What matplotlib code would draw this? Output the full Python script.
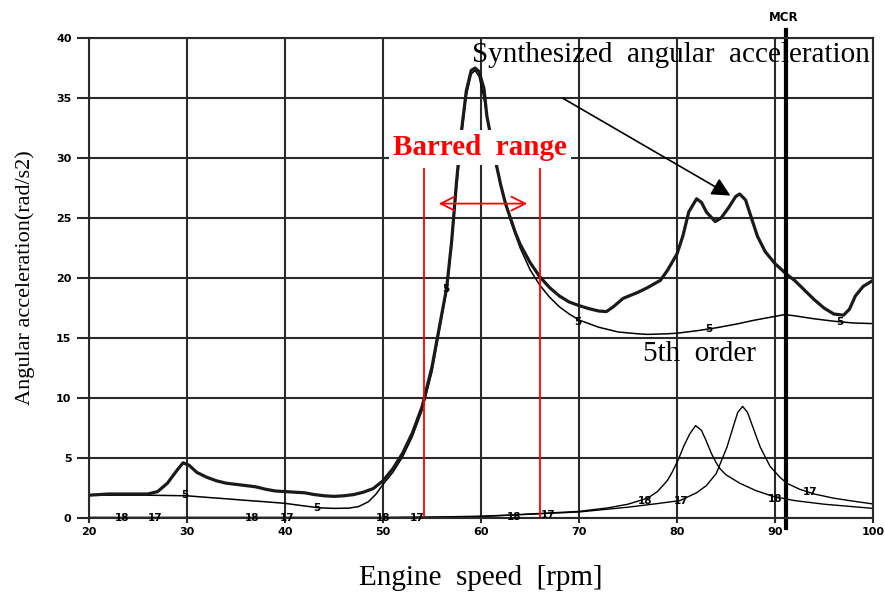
import matplotlib
matplotlib.use('Agg')
import matplotlib.pyplot as plt

# synthesized angular acceleration (thick curve)
synth_rpm = [20, 22, 24, 26, 27, 28, 29, 29.6, 30.2, 31, 32, 33, 34, 35, 36, 37, 38, 39, 40, 41, 42, 43, 44, 45, 46, 47, 48, 49, 50,
             51, 52, 53, 54, 55, 55.5, 56, 56.5, 57, 57.5, 58, 58.5, 59, 59.4, 59.8, 60.3, 60.6, 61, 61.5, 62, 62.5, 63, 63.5, 64,
             65, 66, 67, 68, 69, 70, 71, 72, 72.8, 73.5, 74.5, 76, 77, 78.3, 79, 80, 80.6, 81.2, 82, 82.5, 83, 83.9, 84.5, 85.3,
             86, 86.4, 87, 87.6, 88.2, 89, 90, 91.2, 92, 93, 94, 95, 96, 97, 97.6, 98.2, 99, 100]
synth_val = [1.9, 2.0, 2.0, 2.0, 2.2, 2.9, 4.0, 4.6, 4.4, 3.8, 3.4, 3.1, 2.9, 2.8, 2.7, 2.6, 2.4, 2.25, 2.2, 2.15, 2.1, 1.95, 1.85, 1.8, 1.85, 1.95, 2.15, 2.45, 3.1,
             4.1, 5.4, 7.1, 9.3, 12.6, 14.8, 17.0, 19.2, 23.0, 28.0, 32.2, 35.6, 37.3, 37.5, 37.2, 35.8, 33.5, 31.8, 29.7, 27.8, 26.2, 25.0, 23.8, 22.8,
             21.3, 20.1, 19.2, 18.5, 18.0, 17.7, 17.45, 17.25, 17.2, 17.6, 18.3, 18.8, 19.2, 19.8, 20.6, 22.0, 23.5, 25.5, 26.6, 26.3, 25.5, 24.7, 25.0, 25.9,
             26.8, 27.0, 26.5, 25.0, 23.5, 22.2, 21.2, 20.3, 19.8, 19.0, 18.2, 17.5, 17.0, 16.9, 17.4, 18.5, 19.3, 19.8]

# 5th order
o5_rpm = [20, 26, 30, 32, 34, 36, 38, 40, 42, 43.5, 45, 46.5, 47.5, 48.5, 49.3, 50, 51, 52, 53, 54, 55, 56, 56.5, 57, 57.5, 58, 58.5, 59,
          59.4, 59.8, 60.3, 61, 61.5, 62, 63, 64, 65, 66, 67, 68, 69, 70, 72, 74, 76, 77, 79, 80, 82, 84, 86, 88, 90, 91, 92, 94, 96, 98, 100]
o5_val = [1.9, 1.9, 1.85, 1.72, 1.6, 1.47, 1.35, 1.22, 1.0, 0.85, 0.8, 0.82, 0.95, 1.35, 2.0, 2.8, 3.8, 5.1, 6.8, 9.0, 12.2, 16.8, 19.0, 22.8, 27.5, 31.8, 35.2, 37.0,
          37.3, 36.8, 35.0, 31.5, 29.5, 27.8, 24.8, 22.5, 20.7, 19.4, 18.4, 17.6, 17.0, 16.5, 15.9, 15.5, 15.35, 15.3, 15.35, 15.4, 15.6, 15.85, 16.15, 16.5, 16.8, 16.95, 16.85, 16.6, 16.4, 16.25, 16.2]

# 18th order
o18_rpm = [20, 50, 55, 60, 63, 66, 70, 73, 75, 77, 78, 79, 79.5, 80.1, 80.7, 81.3, 81.9, 82.5, 83, 83.5, 84, 84.4, 85, 86.4, 88, 89.8, 92, 95, 100]
o18_val = [0.05, 0.05, 0.08, 0.15, 0.25, 0.38, 0.55, 0.85, 1.15, 1.65, 2.2, 3.1, 3.8, 4.8, 6.0, 7.0, 7.7, 7.3, 6.4, 5.4, 4.6, 4.1, 3.6, 2.9, 2.3, 1.8, 1.45, 1.15, 0.8]

# 17th order
o17_rpm = [20, 50, 55, 60, 66, 70, 75, 78, 80.3, 82, 83, 84, 85.1, 85.7, 86.2, 86.7, 87.2, 88, 88.5, 89.5, 90.5, 91.2, 92.5, 94, 96, 98, 100]
o17_val = [0.03, 0.03, 0.06, 0.12, 0.35, 0.5, 0.9, 1.2, 1.45, 2.1, 2.7, 3.7, 5.9, 7.5, 8.8, 9.3, 8.8, 7.0, 5.9, 4.3, 3.4, 2.9, 2.4, 2.0, 1.65, 1.4, 1.17]

# order number labels sitting on the curves
lab5 = [(29.8, 1.9), (43.2, 0.8), (56.4, 19.1), (69.9, 16.3), (83.2, 15.75), (96.6, 16.3)]
lab18 = [(23.4, 0.0), (36.6, 0.0), (50.0, 0.0), (63.4, 0.1), (76.7, 1.45), (90.0, 1.6)]
lab17 = [(26.7, 0.0), (40.2, 0.0), (53.5, 0.0), (66.9, 0.25), (80.4, 1.45), (93.6, 2.2)]

barred = (54.2, 66.0)
mcr_rpm = 91.1
xticks = [20, 30, 40, 50, 60, 70, 80, 90, 100]
yticks = [0, 5, 10, 15, 20, 25, 30, 35, 40]

serif = ['Liberation Serif', 'DejaVu Serif']
gcol = '#2a2a2a'

fig = plt.figure(figsize=(8.85, 5.93), dpi=100)
ax = fig.add_axes([0.1006, 0.1265, 0.8858, 0.8094])
ax.set_xlim(20, 100)
ax.set_ylim(0, 40)
ax.set_xticks(xticks)
ax.set_yticks(yticks)
ax.grid(True, color=gcol, lw=1.5)
ax.set_axisbelow(True)
for s in ax.spines.values():
    s.set_color(gcol)
    s.set_linewidth(1.5)
ax.tick_params(axis='y', length=8.6, width=1.5, color=gcol, pad=4)
ax.tick_params(axis='x', length=3.6, width=1.5, color=gcol, pad=3)
for lbl in ax.get_xticklabels() + ax.get_yticklabels():
    lbl.set_fontsize(8)
    lbl.set_fontweight('bold')

ax.plot(o18_rpm, o18_val, color='black', lw=1.0, clip_on=False)
ax.plot(o17_rpm, o17_val, color='black', lw=1.0, clip_on=False)
ax.plot(o5_rpm, o5_val, color='black', lw=1.1)
ax.plot(synth_rpm, synth_val, color='#1a1a1a', lw=2.3)

for (x, y) in lab5:
    ax.text(x, y, '5', fontsize=7.5, fontweight='bold', ha='center', va='center')
for (x, y) in lab18:
    ax.text(x, y, '18', fontsize=7.5, fontweight='bold', ha='center', va='center')
for (x, y) in lab17:
    ax.text(x, y, '17', fontsize=7.5, fontweight='bold', ha='center', va='center')

# barred range
for b in barred:
    ax.plot([b, b], [0, 29.1], color='red', lw=1.3)
ax.annotate('', xy=(barred[0] + 1.2, 26.2), xytext=(barred[1] - 1.0, 26.2),
            arrowprops=dict(arrowstyle='<->', color='red', lw=1.3, mutation_scale=25))
ax.text(sum(barred) / 2 - 0.2, 30.9, 'Barred  range', color='red', fontsize=21, fontweight='bold',
        family=serif, ha='center', va='center',
        bbox=dict(facecolor='white', edgecolor='none', pad=3))

# MCR
ax.plot([mcr_rpm, mcr_rpm], [-0.8, 40.7], color='black', lw=3, clip_on=False)
ax.text(mcr_rpm - 0.2, 41.7, 'MCR', fontsize=8.5, fontweight='bold', ha='center', va='center')

ax.text(79.4, 38.6, 'Synthesized  angular  acceleration', fontsize=21, family=serif,
        ha='center', va='center')
ax.annotate('', xy=(85.7, 26.75), xytext=(68.1, 35.1),
            arrowprops=dict(arrowstyle='-|>', color='black', lw=1.2, mutation_scale=28))
ax.text(82.3, 13.7, '5th  order', fontsize=21, family=serif, ha='center', va='center')

ax.set_xlabel('Engine  speed  [rpm]', fontsize=21, family=serif, labelpad=20)
ax.set_ylabel('Angular acceleration(rad/s2)', fontsize=16, family=serif, labelpad=15)

fig.savefig('out.png', dpi=100)
